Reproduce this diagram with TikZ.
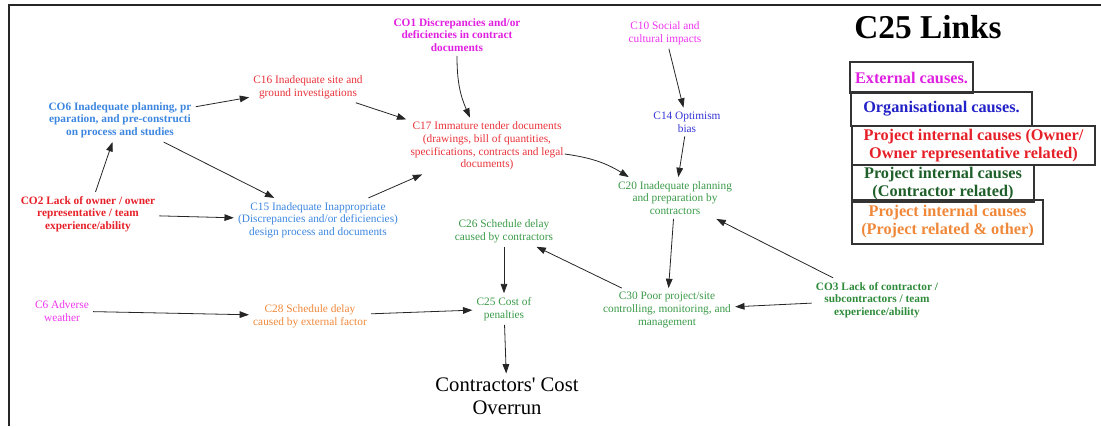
\documentclass[tikz,border=0pt]{standalone}
\usepackage{fontspec}
\setmainfont{Liberation Serif}
\newfontfamily\resfont{Liberation Serif}[Ligatures=TeXOff]
\usetikzlibrary{arrows.meta,calc}
\definecolor{cmag}{HTML}{EE33EE}
\definecolor{cmagb}{HTML}{E020E0}
\definecolor{cred}{HTML}{E8333A}
\definecolor{credb}{HTML}{E62028}
\definecolor{ccorn}{HTML}{3C86E0}
\definecolor{cblue}{HTML}{3535D5}
\definecolor{cblueb}{HTML}{2222C8}
\definecolor{cgreen}{HTML}{3A9A48}
\definecolor{cgreenb}{HTML}{2E8B3A}
\definecolor{cgreend}{HTML}{1F5F2A}
\definecolor{corange}{HTML}{F0883A}
\begin{document}
\begin{tikzpicture}[x=0.75pt,y=-0.75pt,
  lbl/.style={align=center, inner sep=3pt, font=\fontsize{8.5}{9.5}\selectfont},
  lblb/.style={align=center, inner sep=3pt, font=\fontsize{8.5}{9.5}\selectfont\bfseries},
  arr/.style={-{Triangle[length=7pt,width=5pt]}, line width=0.6pt, draw=black!85},
  leg/.style={draw=black!80, line width=1pt, align=center, inner sep=0pt, font=\fontsize{12.2}{13.5}\selectfont\bfseries}]
\useasboundingbox (0,0) rectangle (1101,426);
% frame
\draw[line width=1.8pt, black!85] (9,426) -- (9,5) -- (1101,5);
% title
\node[font=\fontsize{25}{28}\selectfont\bfseries] (title) at (928,27) {C25 Links};
% legend
\node[leg, text=cmagb, minimum width=92.25pt, minimum height=23.25pt] (L1) at (911.5,77.5) {External causes.};
\node[leg, text=cblueb, minimum width=135.75pt, minimum height=25.5pt] (L2) at (941.5,109) {Organisational causes.};
\node[leg, text=credb, minimum width=182.25pt, minimum height=29.25pt] (L3) at (973.5,145.5) {Project internal causes (Owner/\\Owner representative related)};
\node[leg, text=cgreend, minimum width=136.5pt, minimum height=27.75pt] (L4) at (943,183.5) {Project internal causes\\(Contractor related)};
\node[leg, text=corange, minimum width=143.25pt, minimum height=33pt] (L5) at (947.5,222) {Project internal causes\\(Project related \& other)};
% nodes
\node[lblb, text=cmagb] (CO1) at (457,35) {CO1 Discrepancies and/or\\deficiencies in contract\\documents};
\node[lbl, text=cmag] (C10) at (665,33) {C10 Social and\\cultural impacts};
\node[lbl, text=cred] (C16) at (308,87) {C16 Inadequate site and\\ground investigations};
\node[lblb, text=ccorn] (CO6) at (120,120) {CO6 Inadequate planning, pr\\eparation, and pre-constructi\\on process and studies};
\node[lbl, text=cred] (C17) at (487,146) {C17 Immature tender documents\\(drawings, bill of quantities,\\specifications, contracts and legal\\documents)};
\node[lbl, text=cblue] (C14) at (687,122) {C14 Optimism\\bias};
\node[lbl, text=cgreen] (C20) at (675,198) {C20 Inadequate planning\\and preparation by\\contractors};
\node[lblb, text=credb] (CO2) at (88,214) {CO2 Lack of owner / owner\\representative / team\\experience/ability};
\node[lbl, text=ccorn] (C15) at (318,220) {C15 Inadequate Inappropriate\\(Discrepancies and/or deficiencies)\\design process and documents};
\node[lbl, text=cgreen] (C26) at (504,231) {C26 Schedule delay\\caused by contractors};
\node[lbl, text=cmag] (C6) at (62,311) {C6 Adverse\\weather};
\node[lbl, text=corange] (C28) at (310,316) {C28 Schedule delay\\caused by external factor};
\node[lbl, text=cgreen] (C25) at (504,309) {C25 Cost of\\penalties};
\node[lbl, text=cgreen] (C30) at (667,310) {C30 Poor project/site\\controlling, monitoring, and\\management};
\node[lblb, text=cgreenb] (CO3) at (877,300) {CO3 Lack of contractor /\\subcontractors / team\\experience/ability};
\node[align=center, inner sep=3pt, font=\fontsize{15.5}{17}\selectfont\resfont] (RES) at (507,396) {Contractors' Cost\\Overrun};
% connectors
\draw[arr] (CO6) -- (C16);
\draw[arr] (CO2) -- (CO6);
\draw[arr] (CO6) -- (C15);
\draw[arr] (CO2) -- (C15);
\draw[arr] (C16) -- (C17);
\draw[arr] (C15) -- (C17);
\draw[arr] (CO1.south) to[bend right=12] ($(C17.north)+(-17,0)$);
\draw[arr] ($(C17.east)+(-3,8)$) to[bend left=12] ($(C20.north west)+(15,0)$);
\draw[arr] (C10) -- (C14);
\draw[arr] (C14) -- (C20);
\draw[arr] (C20) -- (C30);
\draw[arr] (CO3) -- (C20);
\draw[arr] (CO3) -- (C30);
\draw[arr] (C30) -- (C26);
\draw[arr] (C26) -- (C25);
\draw[arr] (C6) -- (C28);
\draw[arr] (C28) -- (C25);
\draw[arr] (C25) -- (RES);
\end{tikzpicture}
\end{document}
